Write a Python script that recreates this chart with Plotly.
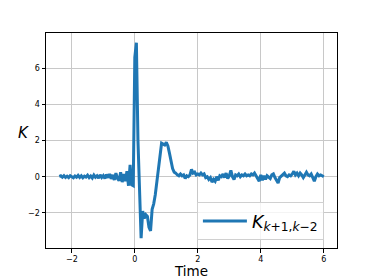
import numpy as np
import plotly.graph_objects as go

# time grid (0.05 s steps from -2.4 to 6.0)
t_start, t_step, n_pts = -2.4, 0.05, 169
time = np.round(t_start + t_step * np.arange(n_pts), 2)

# K_{k+1,k-2}
k_pre = [0.02, 0.05, -0.03, 0.06, -0.04, 0.03, -0.05, 0.05, 0.00, -0.06,
         0.04, -0.03, 0.07, -0.04, 0.05, -0.06, 0.03, -0.02, 0.08, -0.05,
         0.04, -0.07, 0.09, -0.03, 0.05, -0.08, 0.10, -0.04, 0.06, -0.10,
         0.12, -0.06, 0.15, -0.12, 0.10, -0.18, 0.20, -0.10, -0.22, 0.25,
         -0.30, 0.15, -0.25, 0.30, -0.50, 0.65, -0.45, -0.50]
k_event = [6.60, 7.40, 2.00, -1.50, -3.40, -1.90, -2.30, -2.10, -2.20, -2.80,
           -3.00, -1.80, -1.50, -1.00, -0.30, 0.60, 1.30, 1.85, 1.80, 1.75,
           1.90, 1.70, 1.30, 0.90, 0.45, 0.25, 0.20, 0.10]
k_post = [0.05, 0.15, 0.05, 0.10, -0.10, 0.05, 0.00, 0.10, 0.40, 0.20,
          0.25, 0.10, 0.15, 0.10, 0.20, 0.10, 0.15, -0.05, 0.00, -0.15,
          -0.05, -0.30, -0.15, -0.25, 0.00, -0.20, 0.05, 0.00, 0.15, -0.05,
          0.20, -0.10, 0.05, 0.35, 0.00, -0.15, 0.10, 0.05, 0.15, 0.00,
          0.10, 0.05, 0.15, 0.05, 0.10, 0.05, 0.15, 0.10, 0.20, 0.05,
          -0.15, -0.25, 0.10, -0.20, 0.05, -0.15, 0.05, -0.05, -0.10, 0.10,
          0.15, -0.05, -0.20, -0.35, -0.05, 0.05, 0.10, 0.20, 0.05, 0.00,
          0.10, 0.05, 0.15, 0.30, 0.10, 0.20, 0.05, 0.20, 0.10, -0.05,
          0.10, 0.25, 0.10, 0.05, 0.15, -0.10, -0.25, 0.00, 0.15, 0.05,
          0.10, 0.05, 0.00]
k_vals = k_pre + k_event + k_post

x_ticks = [-2, 0, 2, 4, 6]
y_ticks = [-2, 0, 2, 4, 6]

fig = go.Figure()
fig.add_trace(go.Scatter(
    x=time, y=k_vals, mode="lines",
    line=dict(color="#1f77b4", width=3),
    name="<i>K</i><sub><i>k</i>+1,<i>k</i>−2</sub>",
))

axis_style = dict(showgrid=True, gridcolor="#c8c8c8", gridwidth=1,
                  showline=True, linecolor="black", linewidth=1, mirror=True,
                  ticks="outside", ticklen=3.5, tickcolor="black", zeroline=False,
                  automargin=False,
                  tickfont=dict(family="DejaVu Sans", size=8, color="black"))

fig.update_xaxes(range=[-2.82, 6.42], tickvals=x_ticks,
                 ticktext=[str(v).replace("-", "−") for v in x_ticks],
                 title=dict(text="Time", font=dict(family="DejaVu Sans", size=13.5, color="black"),
                            standoff=8),
                 **axis_style)
fig.update_yaxes(range=[-3.94, 7.94], tickvals=y_ticks,
                 ticktext=[str(v).replace("-", "−") for v in y_ticks],
                 **axis_style)

# y label "K" sits horizontally left of the axis
fig.add_annotation(text="<i>K</i>", xref="paper", yref="paper", x=-0.077, y=0.537,
                   xanchor="center", yanchor="middle", showarrow=False,
                   font=dict(family="DejaVu Sans", size=15, color="black"))

# the page body has an 8px margin, so the figure is made 8px smaller
fig.update_layout(
    width=366, height=271,
    margin=dict(l=38, r=37, t=25, b=31),
    paper_bgcolor="white", plot_bgcolor="white",
    showlegend=True,
    legend=dict(x=0.955, y=0.037, xanchor="right", yanchor="bottom",
                bgcolor="rgba(255,255,255,0.8)", bordercolor="#d0d0d0", borderwidth=1,
                font=dict(family="DejaVu Sans", size=17.5, color="black"),
                itemwidth=44),
)

fig.write_html("out.html")
